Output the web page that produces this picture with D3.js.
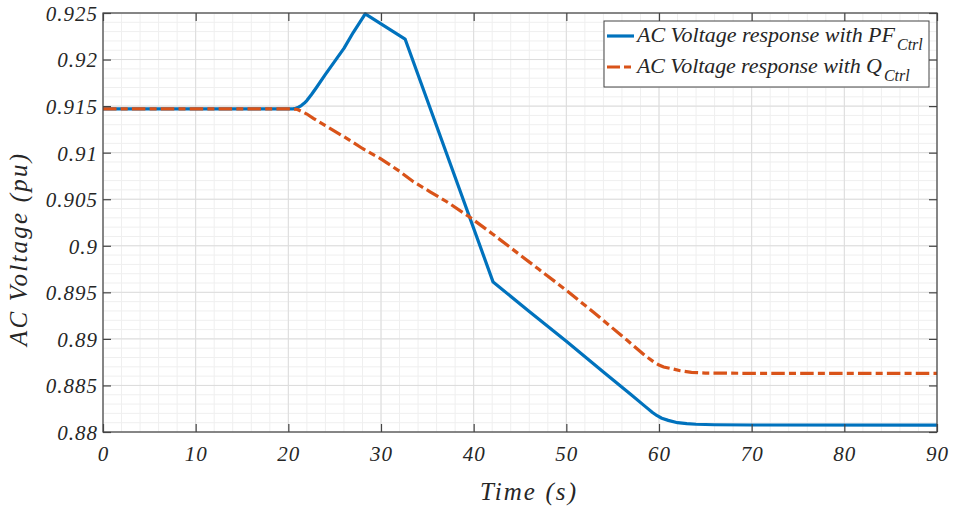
<!DOCTYPE html>
<html>
<head>
<meta charset="utf-8">
<script src="https://cdn.jsdelivr.net/npm/d3@7"></script>
<style>
  body { margin: 0; background: #fff; }
  svg text, svg tspan { font-family: 'Liberation Serif' !important; font-style: italic !important; }
</style>
</head>
<body>
<svg id="svg" width="956" height="509"></svg>
<script>
// PF control response (blue)
const pfTime = [0, 20.5, 20.8, 21.1, 21.4, 21.7, 22, 22.5, 23, 24, 25, 26, 27, 28.3, 32.6, 42.1, 46, 50, 54, 57, 58.5, 59.3, 59.8, 60.3, 61, 62, 63, 64, 66, 70, 90];
const pfVolt = [0.9147, 0.9147, 0.91476, 0.91488, 0.91506, 0.9153, 0.9156, 0.91625, 0.91695, 0.9184, 0.9198, 0.9212, 0.9229, 0.9249, 0.9222, 0.8961, 0.89295, 0.88975, 0.88645, 0.8840, 0.88275, 0.8821, 0.88175, 0.88148, 0.88125, 0.8810, 0.8809, 0.88083, 0.88078, 0.88075, 0.88074];

// Q control response (orange)
const qTime = [0, 20.5, 21, 22, 22.7, 24, 26.3, 28, 29.9, 32, 33.5, 35.3, 37.1, 39.6, 42, 44.5, 47, 49.7, 52.9, 56.5, 58.5, 59.4, 60, 60.5, 61.2, 62.3, 63.5, 65, 70, 90];
const qVolt = [0.9147, 0.9147, 0.91464, 0.91415, 0.91369, 0.9129, 0.91154, 0.91045, 0.90939, 0.9080, 0.90688, 0.9058, 0.90473, 0.90306, 0.9013, 0.8994, 0.8975, 0.89545, 0.8929, 0.8899, 0.8882, 0.88755, 0.8872, 0.88698, 0.88684, 0.88658, 0.8864, 0.88633, 0.8863, 0.8863];

const xTicks = [0, 10, 20, 30, 40, 50, 60, 70, 80, 90];
const yTicks = [0.88, 0.885, 0.89, 0.895, 0.9, 0.905, 0.91, 0.915, 0.92, 0.925];
const yLabels = ['0.88', '0.885', '0.89', '0.895', '0.9', '0.905', '0.91', '0.915', '0.92', '0.925'];
const legendNames = ['AC Voltage response with PF', 'AC Voltage response with Q'];

const plotL = 103, plotR = 937, plotT = 13, plotB = 432;
const serif = 'Liberation Serif';
const textColor = '#262626';

const x = d3.scaleLinear().domain([0, 90]).range([plotL, plotR]);
const y = d3.scaleLinear().domain([0.88, 0.925]).range([plotB, plotT]);

const svg = d3.select('#svg');

function italic(sel, size) {
  return sel.attr('font-family', serif)
    .style('font-family', serif)
    .style('font-style', 'italic')
    .style('font-size', size + 'px')
    .style('fill', textColor);
}

// minor grid
const g = svg.append('g');
g.selectAll('.mx').data(d3.range(0, 91, 2)).enter().append('line')
  .attr('x1', d => x(d)).attr('x2', d => x(d)).attr('y1', plotT).attr('y2', plotB)
  .attr('stroke', '#efefef').attr('stroke-width', 1);
g.selectAll('.my').data(d3.range(0, 46).map(i => 0.88 + i * 0.001)).enter().append('line')
  .attr('y1', d => y(d)).attr('y2', d => y(d)).attr('x1', plotL).attr('x2', plotR)
  .attr('stroke', '#efefef').attr('stroke-width', 1);

// major grid
g.selectAll('.gx').data(xTicks).enter().append('line')
  .attr('x1', d => x(d)).attr('x2', d => x(d)).attr('y1', plotT).attr('y2', plotB)
  .attr('stroke', '#dcdcdc').attr('stroke-width', 1);
g.selectAll('.gy').data(yTicks).enter().append('line')
  .attr('y1', d => y(d)).attr('y2', d => y(d)).attr('x1', plotL).attr('x2', plotR)
  .attr('stroke', '#dcdcdc').attr('stroke-width', 1);

// lines
const line = d3.line().x(d => x(d[0])).y(d => y(d[1]));

svg.append('path')
  .datum(d3.zip(pfTime, pfVolt))
  .attr('d', line)
  .attr('fill', 'none')
  .attr('stroke', '#0072BD')
  .attr('stroke-width', 3.2)
  .attr('stroke-linejoin', 'round');

svg.append('path')
  .datum(d3.zip(qTime, qVolt))
  .attr('d', line)
  .attr('fill', 'none')
  .attr('stroke', '#D95319')
  .attr('stroke-width', 3.2)
  .attr('stroke-dasharray', '13.5,4.2,7,4.2');

// axes box and ticks
const axisColor = '#444';
svg.append('rect')
  .attr('x', plotL).attr('y', plotT).attr('width', plotR - plotL).attr('height', plotB - plotT)
  .attr('fill', 'none').attr('stroke', axisColor).attr('stroke-width', 1.2);

const xb = svg.append('g').attr('transform', `translate(0,${plotB})`)
  .call(d3.axisBottom(x).tickValues(xTicks).tickSize(-8).tickPadding(14).tickFormat(d3.format('d')));
const xt = svg.append('g').attr('transform', `translate(0,${plotT})`)
  .call(d3.axisTop(x).tickValues(xTicks).tickSize(-8).tickFormat(''));
const yl = svg.append('g').attr('transform', `translate(${plotL},0)`)
  .call(d3.axisLeft(y).tickValues(yTicks).tickSize(-8).tickPadding(5).tickFormat((d, i) => yLabels[i]));
const yr = svg.append('g').attr('transform', `translate(${plotR},0)`)
  .call(d3.axisRight(y).tickValues(yTicks).tickSize(-8).tickFormat(''));

[xb, xt, yl, yr].forEach(a => {
  a.attr('font-family', serif);
  a.select('.domain').remove();
  a.selectAll('.tick line').attr('stroke', axisColor).attr('stroke-width', 1.2);
  italic(a.selectAll('text'), 21).style('letter-spacing', '1px');
});
xb.selectAll('text').attr('dy', '0.71em');
yl.selectAll('text').attr('dy', '0.35em');

// axis titles
italic(svg.append('text'), 25)
  .attr('x', 528).attr('y', 500)
  .attr('text-anchor', 'middle')
  .attr('textLength', 96)
  .text('Time (s)');

italic(svg.append('text'), 25)
  .attr('transform', 'translate(27,250) rotate(-90)')
  .attr('text-anchor', 'middle')
  .attr('textLength', 192)
  .text('AC Voltage (pu)');

// legend
const lg = svg.append('g');
lg.append('rect')
  .attr('x', 604).attr('y', 21).attr('width', 325).attr('height', 66)
  .attr('fill', '#fff').attr('stroke', axisColor).attr('stroke-width', 1);

const legendColors = ['#0072BD', '#D95319'];
const legendDash = [null, '13,4,7,4'];
const legendY = [36, 67];
const mainLen = [258, 245];

legendNames.forEach((name, i) => {
  lg.append('line')
    .attr('x1', 607).attr('x2', 634)
    .attr('y1', legendY[i]).attr('y2', legendY[i])
    .attr('stroke', legendColors[i]).attr('stroke-width', 3.2)
    .attr('stroke-dasharray', legendDash[i]);
  const t = italic(lg.append('text'), 22)
    .attr('x', 637).attr('y', legendY[i] + 6);
  t.append('tspan').attr('textLength', mainLen[i]).text(name);
  t.append('tspan').attr('dx', 2).attr('dy', 8).style('font-size', '16px').text('Ctrl');
});
</script>
</body>
</html>
